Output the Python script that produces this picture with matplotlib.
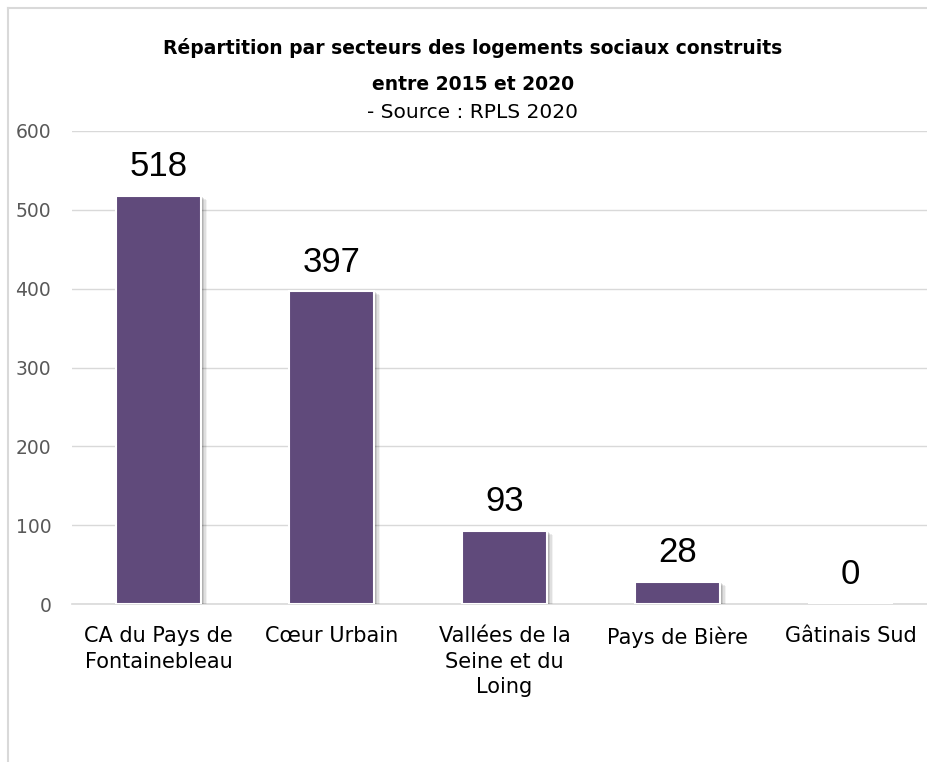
import matplotlib
matplotlib.use('Agg')
import matplotlib.pyplot as plt
import matplotlib.patheffects as pe
from matplotlib.lines import Line2D

# data
secteurs = ['CA du Pays de\nFontainebleau', 'Cœur Urbain', 'Vallées de la\nSeine et du\nLoing',
            'Pays de Bière', 'Gâtinais Sud']
logements = [518, 397, 93, 28, 0]
yticks = [0, 100, 200, 300, 400, 500, 600]

fnt = ['DejaVu Sans']
purple = '#604A7B'
grid_c = '#D9D9D9'

fig = plt.figure(figsize=(9.28, 7.62), dpi=100)

# outer chart frame (top and left edges visible)
fig.add_artist(Line2D([8/928, 1.01], [1-8/762, 1-8/762], color='#D9D9D9', lw=1.5))
fig.add_artist(Line2D([8/928, 8/928], [-0.01, 1-8/762], color='#D9D9D9', lw=1.5))

ax = fig.add_axes([72/928, 158/762, 865/928, 473/762])
x = range(len(secteurs))
# soft shadow to the lower right, built from a few stacked offsets
shadow = [pe.SimplePatchShadow(offset=(o, -o*0.7), shadow_rgbFace='#000000', alpha=a)
          for o, a in [(4.5, 0.05), (3.5, 0.08), (2.5, 0.10), (1.5, 0.12)]]
shadow.append(pe.Normal())
bars = ax.bar(x, logements, width=0.49, color=purple, edgecolor='white', linewidth=1.5, zorder=3)
for b in bars:
    b.set_path_effects(shadow)

for xi, v in zip(x, logements):
    ax.annotate(str(v), (xi, v), xytext=(0, 9), textcoords='offset points',
                ha='center', va='bottom', fontsize=25, family=['Liberation Sans', 'DejaVu Sans'],
                color='black', zorder=4)

ax.set_xlim(-0.5, 4.5)
ax.set_ylim(0, 600)
ax.set_yticks(yticks)
ax.grid(axis='y', color=grid_c, lw=1, zorder=0)
ax.set_axisbelow(True)
for s in ['top', 'right', 'left']:
    ax.spines[s].set_visible(False)
ax.spines['bottom'].set_color(grid_c)
ax.spines['bottom'].set_linewidth(1.2)
ax.tick_params(axis='both', length=0)
ax.tick_params(axis='y', pad=15, labelsize=13.5, labelcolor='#595959')
ax.tick_params(axis='x', pad=16, labelsize=15)
ax.set_xticks(list(x))
ax.set_xticklabels(secteurs, family=fnt, linespacing=1.35, va='top')

fig.text(473/928, 1-48/762, 'Répartition par secteurs des logements sociaux construits',
         ha='center', va='center', fontsize=13.5, fontweight='bold', family=fnt)
fig.text(473/928, 1-85/762, 'entre 2015 et 2020',
         ha='center', va='center', fontsize=13.5, fontweight='bold', family=fnt)
fig.text(473/928, 1-113/762, '- Source : RPLS 2020',
         ha='center', va='center', fontsize=14.5, family=fnt)

fig.savefig('out.png', dpi=100, facecolor='white')
